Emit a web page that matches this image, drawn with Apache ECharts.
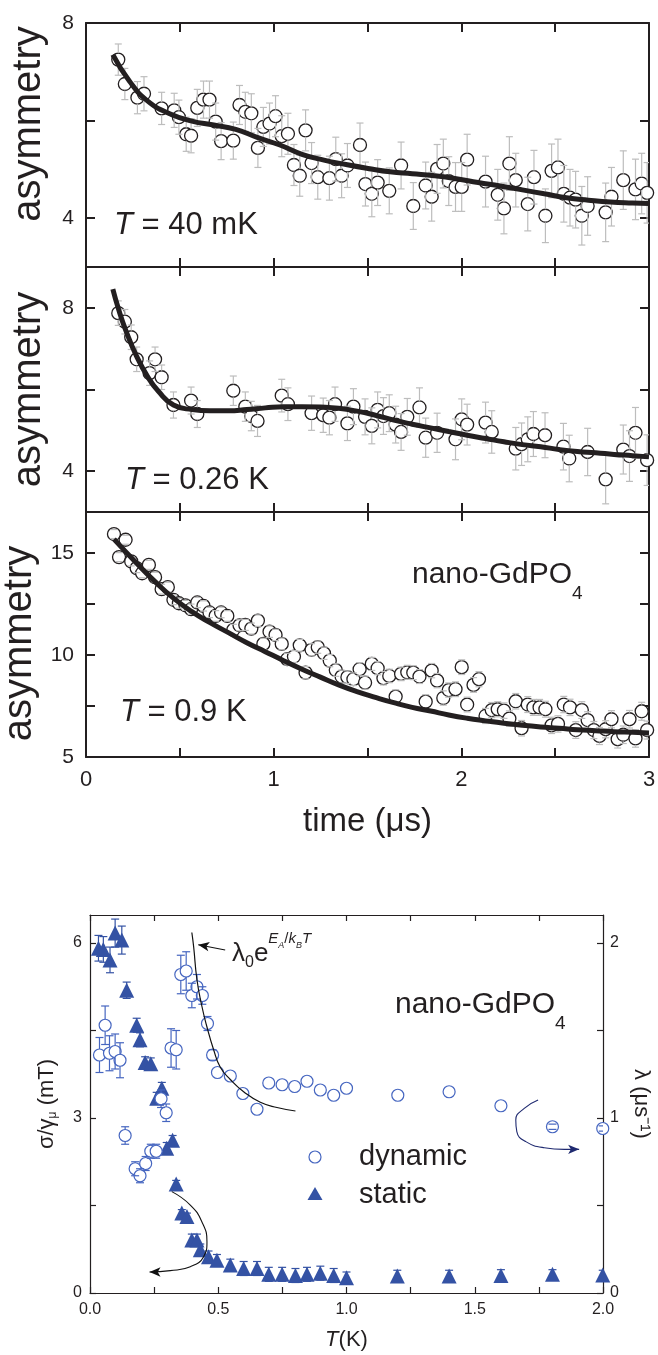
<!DOCTYPE html>
<html><head><meta charset="utf-8">
<script src="https://cdn.jsdelivr.net/npm/echarts@6/dist/echarts.min.js"></script>
<style>html,body{margin:0;padding:0;background:#fff}#c{width:658px;height:1355px}</style>
</head><body><div id="c"></div>
<script>
// ---------- data ----------
// panel 1, T = 40 mK : [time (us), asymmetry, error]
var p1Points = [[0.172,7.25,0.32],[0.207,6.75,0.32],[0.274,6.47,0.33],[0.309,6.55,0.35],[0.403,6.25,0.33],[0.470,6.21,0.35],[0.495,6.07,0.35],[0.534,5.72,0.35],[0.560,5.69,0.35],[0.593,6.26,0.38],[0.626,6.43,0.38],[0.658,6.43,0.38],[0.691,5.98,0.38],[0.720,5.58,0.38],[0.785,5.59,0.38],[0.818,6.32,0.4],[0.849,6.18,0.4],[0.881,6.15,0.4],[0.916,5.44,0.4],[0.945,5.87,0.4],[0.978,5.94,0.42],[1.010,6.09,0.42],[1.043,5.68,0.42],[1.076,5.73,0.42],[1.108,5.09,0.42],[1.139,4.87,0.42],[1.170,5.80,0.42],[1.202,5.13,0.42],[1.235,4.84,0.45],[1.297,4.82,0.45],[1.331,5.21,0.45],[1.362,4.87,0.45],[1.393,5.08,0.45],[1.460,5.50,0.45],[1.489,4.70,0.45],[1.523,4.50,0.47],[1.554,4.73,0.47],[1.616,4.56,0.47],[1.679,5.08,0.48],[1.744,4.25,0.48],[1.810,4.67,0.48],[1.842,4.44,0.5],[1.871,5.01,0.5],[1.904,5.12,0.5],[1.933,4.76,0.5],[1.969,4.64,0.5],[2.002,4.64,0.5],[2.031,5.20,0.52],[2.129,4.75,0.52],[2.194,4.48,0.52],[2.227,4.20,0.52],[2.256,5.12,0.55],[2.290,4.78,0.55],[2.354,4.29,0.55],[2.387,4.84,0.55],[2.448,4.05,0.55],[2.481,4.97,0.55],[2.515,5.04,0.58],[2.546,4.50,0.58],[2.579,4.42,0.58],[2.609,4.38,0.58],[2.642,4.05,0.6],[2.673,4.25,0.6],[2.769,4.12,0.6],[2.800,4.44,0.6],[2.863,4.78,0.6],[2.928,4.59,0.62],[2.961,4.71,0.62],[2.990,4.52,0.62]];
var p1Fit = [[0.143,7.35],[0.231,6.81],[0.329,6.40],[0.446,6.14],[0.564,5.99],[0.681,5.91],[0.798,5.82],[0.916,5.65],[1.033,5.50],[1.151,5.31],[1.268,5.19],[1.386,5.10],[1.503,5.02],[1.620,4.95],[1.738,4.91],[1.855,4.87],[1.973,4.81],[2.090,4.73],[2.207,4.66],[2.325,4.58],[2.442,4.50],[2.560,4.42],[2.677,4.37],[2.795,4.33],[2.912,4.31],[3.0,4.30]];

// panel 2, T = 0.26 K
var p2Points = [[0.172,7.87,0.3],[0.207,7.66,0.3],[0.241,7.28,0.3],[0.270,6.74,0.3],[0.339,6.40,0.3],[0.368,6.74,0.3],[0.403,6.30,0.3],[0.466,5.62,0.32],[0.560,5.73,0.33],[0.593,5.40,0.33],[0.785,5.97,0.36],[0.849,5.58,0.36],[0.881,5.35,0.36],[0.914,5.23,0.38],[1.043,5.85,0.4],[1.076,5.64,0.4],[1.202,5.42,0.42],[1.264,5.37,0.42],[1.297,5.31,0.42],[1.327,5.64,0.42],[1.393,5.17,0.42],[1.425,5.58,0.44],[1.487,5.33,0.44],[1.523,5.11,0.44],[1.554,5.50,0.44],[1.585,5.35,0.45],[1.616,5.42,0.45],[1.650,5.14,0.45],[1.679,4.96,0.45],[1.712,5.33,0.45],[1.777,5.56,0.48],[1.810,4.82,0.48],[1.871,4.94,0.48],[1.969,4.78,0.5],[2.002,5.27,0.5],[2.031,5.14,0.5],[2.129,5.19,0.5],[2.162,4.96,0.52],[2.290,4.55,0.52],[2.321,4.66,0.52],[2.354,4.78,0.55],[2.384,4.91,0.55],[2.446,4.88,0.55],[2.544,4.60,0.57],[2.575,4.31,0.57],[2.673,4.47,0.58],[2.769,3.80,0.6],[2.863,4.53,0.6],[2.896,4.37,0.62],[2.928,4.94,0.62],[2.990,4.27,0.62]];
var p2Fit = [[0.143,8.46],[0.172,7.99],[0.211,7.46],[0.270,6.81],[0.329,6.31],[0.387,5.95],[0.466,5.62],[0.564,5.51],[0.661,5.48],[0.759,5.48],[0.857,5.51],[0.955,5.55],[1.053,5.58],[1.151,5.58],[1.249,5.57],[1.346,5.54],[1.444,5.47],[1.542,5.37],[1.640,5.25],[1.738,5.15],[1.836,5.06],[1.933,4.97],[2.031,4.88],[2.129,4.80],[2.227,4.72],[2.325,4.65],[2.423,4.60],[2.521,4.53],[2.618,4.48],[2.716,4.45],[2.814,4.41],[2.912,4.38],[3.0,4.35]];

// panel 3, T = 0.9 K
var p3Points = [[0.149,15.92,0.22],[0.176,14.79,0.22],[0.211,15.64,0.22],[0.241,14.58,0.22],[0.270,14.25,0.22],[0.299,14.00,0.22],[0.335,14.41,0.22],[0.368,13.81,0.24],[0.403,13.22,0.24],[0.436,13.32,0.24],[0.466,12.70,0.24],[0.495,12.53,0.24],[0.530,12.43,0.24],[0.560,12.24,0.25],[0.593,12.57,0.25],[0.626,12.40,0.25],[0.658,12.08,0.25],[0.691,11.91,0.26],[0.720,12.08,0.26],[0.753,11.91,0.26],[0.785,11.23,0.27],[0.818,11.45,0.27],[0.849,11.47,0.27],[0.881,11.29,0.27],[0.916,11.68,0.28],[0.945,10.54,0.28],[0.978,11.14,0.28],[1.010,10.98,0.28],[1.043,10.54,0.29],[1.072,9.79,0.29],[1.108,9.92,0.29],[1.139,10.47,0.29],[1.170,9.13,0.3],[1.202,10.25,0.3],[1.235,10.38,0.3],[1.268,10.08,0.3],[1.299,9.72,0.3],[1.331,9.26,0.31],[1.362,8.94,0.31],[1.393,8.91,0.31],[1.425,8.81,0.31],[1.458,9.30,0.32],[1.487,8.64,0.32],[1.523,9.56,0.32],[1.554,9.35,0.32],[1.585,8.86,0.33],[1.616,8.97,0.33],[1.650,7.96,0.33],[1.679,9.07,0.33],[1.712,9.15,0.34],[1.744,9.13,0.34],[1.777,8.94,0.34],[1.810,7.71,0.34],[1.842,9.23,0.35],[1.871,8.74,0.35],[1.904,7.89,0.35],[1.933,8.28,0.35],[1.969,8.32,0.36],[2.002,9.40,0.36],[2.031,7.57,0.36],[2.065,8.53,0.36],[2.094,8.81,0.37],[2.129,7.01,0.37],[2.162,7.30,0.37],[2.194,7.34,0.37],[2.227,7.27,0.38],[2.256,6.88,0.38],[2.290,7.73,0.38],[2.321,6.41,0.38],[2.354,7.57,0.39],[2.384,7.43,0.39],[2.417,7.43,0.39],[2.448,7.34,0.39],[2.481,6.55,0.4],[2.515,6.62,0.4],[2.546,7.57,0.4],[2.579,7.43,0.4],[2.610,6.32,0.41],[2.642,7.30,0.41],[2.673,6.81,0.41],[2.706,6.32,0.42],[2.736,6.03,0.42],[2.769,6.36,0.42],[2.800,6.85,0.42],[2.833,5.87,0.43],[2.863,6.09,0.43],[2.896,6.85,0.43],[2.928,5.91,0.43],[2.961,7.24,0.44],[2.990,6.32,0.44]];
var p3Fit = [[0.149,15.67],[0.270,14.49],[0.368,13.59],[0.466,12.78],[0.564,12.12],[0.661,11.58],[0.759,11.09],[0.857,10.60],[0.955,10.16],[1.053,9.72],[1.151,9.30],[1.249,8.91],[1.346,8.53],[1.444,8.20],[1.542,7.92],[1.640,7.66],[1.738,7.43],[1.836,7.25],[1.933,7.06],[2.031,6.90],[2.129,6.77],[2.227,6.65],[2.325,6.55],[2.423,6.47],[2.521,6.41],[2.618,6.34],[2.716,6.29],[2.814,6.24],[2.912,6.21],[3.0,6.18]];

// bottom panel: static sigma/gamma (mT) and dynamic lambda (us^-1) vs T (K): [T, value, error]
var staticSigma = [[0.033,5.91,0.22],[0.052,5.89,0.22],[0.078,5.71,0.22],[0.098,6.17,0.24],[0.124,6.05,0.24],[0.143,5.19,0.14],[0.182,4.59,0.12],[0.195,4.34,0.12],[0.215,3.95,0.1],[0.237,3.93,0.1],[0.260,3.34,0.1],[0.280,3.51,0.1],[0.299,2.48,0.1],[0.322,2.62,0.08],[0.336,1.87,0.06],[0.358,1.37,0.06],[0.378,1.31,0.06],[0.397,0.91,0.1],[0.417,0.91,0.1],[0.430,0.74,0.1],[0.462,0.62,0.1],[0.495,0.56,0.1],[0.547,0.48,0.1],[0.599,0.42,0.12],[0.651,0.42,0.12],[0.697,0.32,0.12],[0.749,0.32,0.12],[0.801,0.30,0.12],[0.846,0.32,0.12],[0.898,0.34,0.12],[0.950,0.30,0.12],[1.000,0.26,0.1],[1.198,0.29,0.1],[1.400,0.29,0.1],[1.602,0.30,0.1],[1.803,0.32,0.08],[1.999,0.31,0.08]];
var dynamicLambda = [[0.037,1.36,0.1],[0.059,1.53,0.11],[0.076,1.37,0.1],[0.098,1.38,0.1],[0.117,1.33,0.1],[0.137,0.90,0.05],[0.176,0.71,0.04],[0.195,0.67,0.04],[0.217,0.74,0.04],[0.237,0.81,0.04],[0.258,0.81,0.04],[0.277,1.11,0.05],[0.297,1.03,0.05],[0.316,1.40,0.11],[0.336,1.39,0.11],[0.354,1.82,0.11],[0.375,1.84,0.11],[0.397,1.70,0.07],[0.417,1.75,0.07],[0.438,1.70,0.05],[0.458,1.54,0.04],[0.478,1.36,0.03],[0.497,1.26,0],[0.547,1.24,0],[0.596,1.14,0],[0.651,1.05,0],[0.697,1.20,0],[0.749,1.19,0],[0.798,1.18,0],[0.846,1.21,0],[0.898,1.16,0],[0.950,1.13,0],[1.000,1.17,0],[1.200,1.13,0],[1.400,1.15,0],[1.602,1.07,0],[1.803,0.95,0.015],[1.999,0.94,0.015]];
var activationFit = [[0.397,2.06],[0.404,1.98],[0.417,1.79],[0.436,1.64],[0.456,1.52],[0.482,1.39],[0.508,1.29],[0.547,1.22],[0.599,1.15],[0.664,1.09],[0.729,1.06],[0.801,1.04]];
var staticArrow = [[0.319,1.738],[0.391,1.508],[0.436,1.223],[0.456,0.880],[0.443,0.623],[0.391,0.451],[0.313,0.383],[0.232,0.360]];
var dynamicArrow = [[1.747,1.103],[1.693,1.055],[1.660,0.989],[1.664,0.922],[1.699,0.865],[1.771,0.830],[1.849,0.821],[1.907,0.821]];
var labelArrow = [[0.527,5.88],[0.422,5.97]];

// ticks / labels
var timeTicks = [0,0.5,1,1.5,2,2.5,3], timeLabels = [0,1,2,3];
var p1Ticks = [4,6,8], p1Labels = [4,8];
var p2Ticks = [4,6,8], p2Labels = [4,8];
var p3Ticks = [5,7.5,10,12.5,15], p3Labels = [5,10,15];
var tTicks = [0,0.25,0.5,0.75,1,1.25,1.5,1.75,2], tLabels = [0,0.5,1,1.5,2];
var sigmaTicks = [0,1.5,3,4.5,6], sigmaLabels = [0,3,6];
var lambdaTicks = [0,0.5,1,1.5,2], lambdaLabels = [0,1,2];

// ---------- styling ----------
var FONT = '"Liberation Sans", Arial, Helvetica, sans-serif';
var INK = '#231f20';
var BLUE_T = '#3452a4';
var BLUE_C = '#4666c0';
var NAVY = '#1f2a70';

function axis(gi, pos, min, max, ticks, labels, o) {
  o = o || {};
  var a = {
    type: 'value', gridIndex: gi, position: pos, min: min, max: max,
    axisLine: {show: true, onZero: false, lineStyle: {color: INK, width: o.lw || 2}},
    axisTick: {show: true, inside: true, length: o.tl || 9, customValues: ticks, lineStyle: {color: INK, width: o.lw || 2}},
    axisLabel: {show: !!labels, customValues: labels || [], fontSize: o.fs || 21, color: INK, fontFamily: FONT,
      margin: o.margin || 10, formatter: o.fmt || function (v) { return String(v); }},
    splitLine: {show: false}
  };
  if (o.name) {
    a.name = o.name; a.nameLocation = 'middle'; a.nameGap = o.nameGap;
    a.nameTextStyle = Object.assign({fontSize: o.nfs, fontFamily: FONT, color: INK}, o.nts || {});
    if (o.nameRotate !== undefined) a.nameRotate = o.nameRotate;
  }
  return a;
}

function errRender(color, cap, lw, r) {
  return function (params, api) {
    var x = api.value(0), y = api.value(1), e = api.value(2);
    if (!(e > 0)) return {type: 'group', children: []};
    var c = api.coord([x, y]);
    var pt = api.coord([x, y + e]), pb = api.coord([x, y - e]);
    var ch = [];
    var st = {stroke: color, lineWidth: lw};
    if (c[1] - pt[1] > r) ch.push({type: 'line', shape: {x1: c[0], y1: pt[1], x2: c[0], y2: c[1] - r}, style: st});
    if (pb[1] - c[1] > r) ch.push({type: 'line', shape: {x1: c[0], y1: c[1] + r, x2: c[0], y2: pb[1]}, style: st});
    ch.push({type: 'line', shape: {x1: c[0] - cap, y1: pt[1], x2: c[0] + cap, y2: pt[1]}, style: st});
    ch.push({type: 'line', shape: {x1: c[0] - cap, y1: pb[1], x2: c[0] + cap, y2: pb[1]}, style: st});
    return {type: 'group', children: ch};
  };
}

var chart = echarts.init(document.getElementById('c'), null, {renderer: 'canvas'});

var grids = [
  {left: 86, top: 23, width: 563, height: 244},
  {left: 86, top: 267, width: 563, height: 245},
  {left: 86, top: 512, width: 563, height: 245},
  {left: 90, top: 915, width: 513, height: 378}
].map(function (g) { return Object.assign({containLabel: false, outerBoundsMode: 'none'}, g); });

var asymName = function (pad) {
  return {name: 'asymmetry', nameGap: 37, nfs: 40, nts: {padding: pad}};
};

var xAxes = [
  axis(0, 'bottom', 0, 3, timeTicks, null),
  axis(0, 'top', 0, 3, timeTicks, null),
  axis(1, 'bottom', 0, 3, timeTicks, null),
  axis(1, 'top', 0, 3, timeTicks, null),
  axis(2, 'bottom', 0, 3, timeTicks, timeLabels, {fs: 22, margin: 12, name: 'time (\u03bcs)', nameGap: 48, nfs: 33}),
  axis(2, 'top', 0, 3, timeTicks, null),
  axis(3, 'bottom', 0, 2, tTicks, tLabels, {lw: 1.2, tl: 6, fs: 16, margin: 9, fmt: function (v) { return v.toFixed(1); },
    name: '{i|T}(K)', nameGap: 36, nfs: 22, nts: {rich: {i: {fontStyle: 'italic', fontSize: 22, fontFamily: FONT, color: INK}}}}),
  axis(3, 'top', 0, 2, tTicks, null, {lw: 1.2, tl: 6})
];
var yAxes = [
  axis(0, 'left', 3, 8, p1Ticks, p1Labels, Object.assign({margin: 12}, asymName([0, 0, 0, 42]))),
  axis(0, 'right', 3, 8, p1Ticks, null),
  axis(1, 'left', 3, 9, p2Ticks, p2Labels, Object.assign({margin: 12}, asymName([0, 0, 0, 0]))),
  axis(1, 'right', 3, 9, p2Ticks, null),
  axis(2, 'left', 5, 17, p3Ticks, p3Labels, Object.assign({margin: 12}, asymName([0, 18, 0, 0]))),
  axis(2, 'right', 5, 17, p3Ticks, null),
  axis(3, 'left', 0, 6.48, sigmaTicks, sigmaLabels, {lw: 1.2, tl: 6, fs: 16, margin: 8,
    name: '{a|\u03c3/\u03b3}{s|\u03bc}{a| (mT)}', nameGap: 31, nfs: 22,
    nts: {rich: {a: {fontSize: 22, fontFamily: FONT, color: INK}, s: {fontSize: 12, fontFamily: FONT, color: INK, padding: [12, 0, 0, 0], verticalAlign: 'top'}}}}),
  axis(3, 'right', 0, 2.16, lambdaTicks, lambdaLabels, {lw: 1.2, tl: 6, fs: 16, margin: 7,
    name: '\u03bb (\u03bcs\u207b\u00b9)', nameGap: 24, nfs: 22, nameRotate: -90})
];

var series = [];
function addPanel(i, pts, fit) {
  series.push({type: 'custom', xAxisIndex: 2 * i, yAxisIndex: 2 * i, data: pts, encode: {x: 0, y: 1},
    renderItem: errRender('#bdbdbd', 3.5, 1.2, 6.5), z: 5, clip: true, silent: true});
  series.push({type: 'scatter', xAxisIndex: 2 * i, yAxisIndex: 2 * i, data: pts.map(function (p) { return [p[0], p[1]]; }),
    symbol: 'circle', symbolSize: 13, itemStyle: {color: '#fff', borderColor: INK, borderWidth: 1.3, opacity: 1}, z: 3, silent: true});
  series.push({type: 'line', xAxisIndex: 2 * i, yAxisIndex: 2 * i, data: fit, smooth: true, symbol: 'none',
    lineStyle: {color: INK, width: 5}, z: 6, silent: true});
}
addPanel(0, p1Points, p1Fit);
addPanel(1, p2Points, p2Fit);
addPanel(2, p3Points, p3Fit);

// bottom panel
series.push({name: 'static-err', type: 'custom', xAxisIndex: 6, yAxisIndex: 6, data: staticSigma, encode: {x: 0, y: 1},
  renderItem: errRender(BLUE_T, 4, 1.2, 0), z: 2, clip: true, silent: true});
series.push({name: 'static', type: 'scatter', xAxisIndex: 6, yAxisIndex: 6, data: staticSigma.map(function (p) { return [p[0], p[1]]; }),
  symbol: 'triangle', symbolSize: 15, itemStyle: {color: BLUE_T, opacity: 1}, z: 3, silent: true});
series.push({name: 'dynamic', type: 'scatter', xAxisIndex: 6, yAxisIndex: 7, data: dynamicLambda.map(function (p) { return [p[0], p[1]]; }),
  symbol: 'circle', symbolSize: 12, itemStyle: {color: '#fff', borderColor: BLUE_C, borderWidth: 1.2, opacity: 1}, z: 4, silent: true});
series.push({name: 'dynamic-err', type: 'custom', xAxisIndex: 6, yAxisIndex: 7, data: dynamicLambda, encode: {x: 0, y: 1},
  renderItem: errRender(BLUE_C, 4, 1.2, 6), z: 5, clip: true, silent: true});
series.push({type: 'line', xAxisIndex: 6, yAxisIndex: 7, data: activationFit, smooth: true, symbol: 'none',
  lineStyle: {color: '#111', width: 1.2}, z: 6, silent: true});

function arrowSeries(data, yi, color, rot) {
  var d = data.map(function (p, k) {
    if (k === data.length - 1) return {value: p, symbol: 'arrow', symbolSize: [7, 11], symbolRotate: rot, itemStyle: {color: color}};
    return {value: p, symbol: 'none'};
  });
  return {type: 'line', xAxisIndex: 6, yAxisIndex: yi, data: d, smooth: 0.5, showSymbol: true, symbol: 'none',
    lineStyle: {color: color, width: 1.1}, itemStyle: {color: color}, z: 7, silent: true, animation: false};
}
series.push(arrowSeries(staticArrow, 6, '#111', 90));
series.push(arrowSeries(dynamicArrow, 7, NAVY, -90));
series.push(arrowSeries(labelArrow, 6, '#111', 80));

function txt(x, y, text, size, rich, extra) {
  return Object.assign({type: 'text', x: x, y: y, z: 50, silent: true,
    style: {text: text, fontSize: size, fontFamily: FONT, fill: INK, verticalAlign: 'middle', align: 'left', rich: rich || {}}}, extra || {});
}
var richT = function (s) { return {i: {fontStyle: 'italic', fontSize: s, fontFamily: FONT, fill: INK}}; };
var richChem = function (s, ss) {
  return {a: {fontSize: s, fontFamily: FONT, fill: INK, lineHeight: s, verticalAlign: 'top'},
          s: {fontSize: ss, fontFamily: FONT, fill: INK, lineHeight: ss, padding: [Math.round(s * 0.8), 0, 0, 0], verticalAlign: 'top'}};
};
var richLambda = {
  m: {fontSize: 26, fontFamily: FONT, fill: INK, lineHeight: 26, padding: [10, 0, 0, 0], verticalAlign: 'top'},
  b: {fontSize: 16, fontFamily: FONT, fill: INK, lineHeight: 16, padding: [24, 0, 0, 0], verticalAlign: 'top'},
  p: {fontSize: 15, fontFamily: FONT, fill: INK, fontStyle: 'italic', lineHeight: 15, padding: [0, 0, 21, 0], verticalAlign: 'top'},
  q: {fontSize: 15, fontFamily: FONT, fill: INK, lineHeight: 15, padding: [0, 0, 21, 0], verticalAlign: 'top'},
  t: {fontSize: 9, fontFamily: FONT, fill: INK, fontStyle: 'italic', lineHeight: 9, padding: [10, 0, 0, 0], verticalAlign: 'top'}
};

var graphics = [
  txt(114, 225, '{i|T} = 40 mK', 31, richT(31)),
  txt(125, 480, '{i|T} = 0.26 K', 31, richT(31)),
  txt(120, 712, '{i|T} = 0.9 K', 31, richT(31)),
  {type: 'text', x: 412, y: 560, z: 50, silent: true, style: {text: '{a|nano-GdPO}{s|4}', rich: richChem(30, 19), fill: INK}},
  {type: 'text', x: 395, y: 990, z: 50, silent: true, style: {text: '{a|nano-GdPO}{s|4}', rich: richChem(30, 19), fill: INK}},
  {type: 'text', x: 232, y: 931, z: 50, silent: true, style: {text: '{m|\u03bb}{b|0}{m|e}{p|E}{t|A}{q|/}{p|k}{t|B}{p|T}', rich: richLambda, fill: INK}},
  // legend
  {type: 'circle', shape: {cx: 315, cy: 1157, r: 6}, style: {fill: '#fff', stroke: BLUE_C, lineWidth: 1.2}, z: 50, silent: true},
  {type: 'polygon', shape: {points: [[315, 1187], [307.5, 1200], [322.5, 1200]]}, style: {fill: BLUE_T}, z: 50, silent: true},
  txt(359, 1157, 'dynamic', 29),
  txt(359, 1195, 'static', 29)
];

chart.setOption({
  animation: false,
  backgroundColor: '#fff',
  grid: grids,
  xAxis: xAxes,
  yAxis: yAxes,
  series: series,
  graphic: graphics
});
</script></body></html>
